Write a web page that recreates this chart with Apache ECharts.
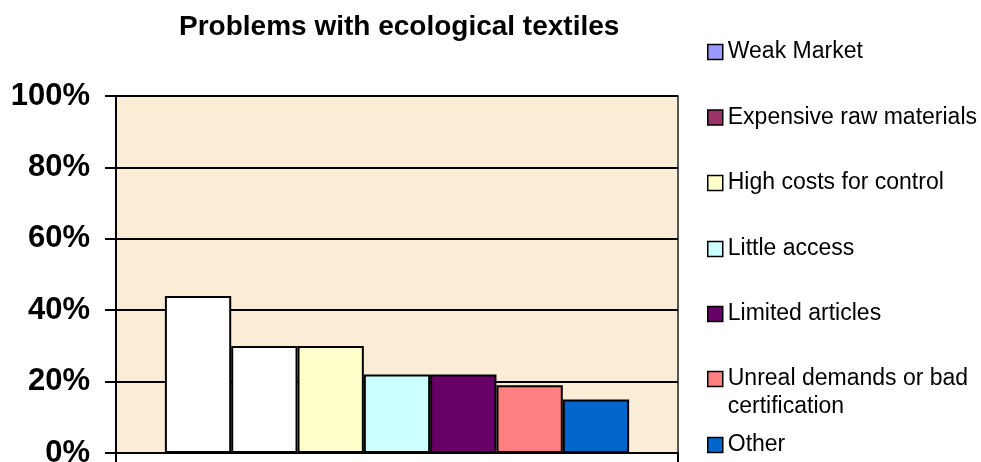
<!DOCTYPE html>
<html>
<head>
<meta charset="utf-8">
<script src="https://cdn.jsdelivr.net/npm/echarts@6/dist/echarts.min.js"></script>
<style>
html,body{margin:0;padding:0;background:#fff;overflow:hidden;}
#chart{width:981px;height:462px;}
</style>
</head>
<body>
<div id="chart"></div>
<script>
var titleText = 'Problems with ecological textiles';
var categories = [''];
var seriesNames = ['Weak Market', 'Expensive raw materials', 'High costs for control', 'Little access', 'Limited articles', 'Unreal demands or bad\ncertification', 'Other'];
var seriesValues = [44, 30, 30, 22, 22, 19, 15];
var barColors = ['#FFFFFF', '#FFFFFF', '#FFFFCC', '#CCFFFF', '#660066', '#FF8080', '#0066CC'];
var legendColors = ['#9999FF', '#993366', '#FFFFCC', '#CCFFFF', '#660066', '#FF8080', '#0066CC'];
var yTicks = [0, 20, 40, 60, 80, 100];

var FONT = '"Liberation Sans", Arial, sans-serif';
var legendCenters = [52, 117.5, 183, 249, 314, 379, 445];
var LH = 28;

var series = seriesNames.map(function (name, i) {
  return {
    name: name,
    type: 'bar',
    barGap: '0%',
    barCategoryGap: '17.4%',
    data: [seriesValues[i]],
    itemStyle: { color: barColors[i], borderColor: '#000', borderWidth: 2 },
    emphasis: { disabled: true }
  };
});

var legends = seriesNames.map(function (name, i) {
  var multi = name.indexOf('\n') >= 0;
  return {
    orient: 'vertical',
    left: 707,
    top: multi ? legendCenters[i] - 1.5 * LH : legendCenters[i] - LH / 2,
    padding: 0,
    itemWidth: 15,
    itemHeight: 15,
    icon: 'rect',
    selectedMode: false,
    formatter: function (n) { return n.indexOf('\n') >= 0 ? ' \n' + n : n; },
    textStyle: { fontFamily: FONT, fontSize: 23, color: '#000', lineHeight: LH },
    data: [{ name: name, itemStyle: { color: legendColors[i], borderColor: '#000', borderWidth: 1.5 } }]
  };
});

var chart = echarts.init(document.getElementById('chart'), null, { renderer: 'canvas' });
chart.setOption({
  animation: false,
  backgroundColor: '#ffffff',
  title: {
    text: titleText,
    left: 179,
    top: 13,
    padding: 0,
    textStyle: { fontFamily: FONT, fontSize: 28, fontWeight: 'bold', color: '#000' }
  },
  legend: legends,
  grid: {
    left: 116, right: 303, top: 96, bottom: 9,
    outerBoundsMode: 'none',
    containLabel: false,
    show: true, backgroundColor: '#FAECD5', borderColor: '#222', borderWidth: 1.5
  },
  xAxis: {
    type: 'category',
    data: categories,
    axisLine: { show: true, lineStyle: { color: '#000', width: 2 } },
    axisTick: { show: true, alignWithLabel: false, length: 10, lineStyle: { color: '#000', width: 2 } },
    axisLabel: { show: false },
    splitLine: { show: false }
  },
  yAxis: {
    type: 'value',
    min: yTicks[0],
    max: yTicks[yTicks.length - 1],
    interval: yTicks[1] - yTicks[0],
    axisLine: { show: true, lineStyle: { color: '#000', width: 2 } },
    axisTick: { show: true, inside: false, length: 11, lineStyle: { color: '#000', width: 2 } },
    axisLabel: {
      formatter: '{value}%', margin: 26,
      fontFamily: FONT, fontSize: 31, fontWeight: 'bold', color: '#000'
    },
    splitLine: { show: true, lineStyle: { color: '#000', width: 2 } }
  },
  series: series
});
</script>
</body>
</html>
